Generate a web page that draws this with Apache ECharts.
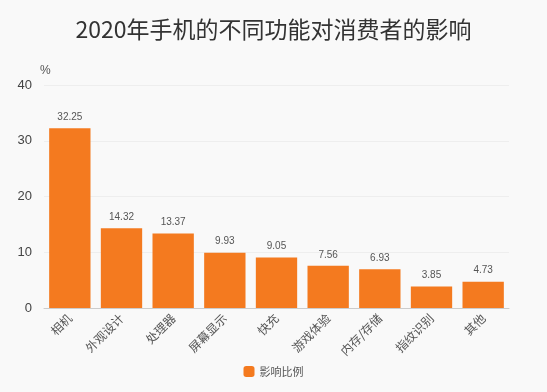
<!DOCTYPE html>
<html><head><meta charset="utf-8">
<script src="https://cdn.jsdelivr.net/npm/echarts@6/dist/echarts.min.js"></script>
<style>html,body{margin:0;padding:0;background:#f9f9f9;}#c{width:547px;height:392px;}</style>
</head><body><div id="c"></div>
<script>
const categories = ['相机','外观设计','处理器','屏幕显示','快充','游戏体验','内存/存储','指纹识别','其他'];
const values = [32.25, 14.32, 13.37, 9.93, 9.05, 7.56, 6.93, 3.85, 4.73];
const seriesName = '影响比例';
const titleText = '2020年手机的不同功能对消费者的影响';
const chart = echarts.init(document.getElementById('c'));
chart.setOption({
  backgroundColor: '#f9f9f9',
  title: {text: titleText, left: 'center', top: 13, textStyle: {fontSize: 23, fontWeight: 'normal', color: '#333', fontFamily: 'Noto Sans CJK SC'}},
  legend: {bottom: 10, left: 'center', itemWidth: 11, itemHeight: 11, icon: 'roundRect', textStyle: {fontSize: 11, color: '#555', fontFamily: 'Noto Sans CJK SC'}},
  grid: {left: 44, right: 38, top: 85, bottom: 84},
  xAxis: {type: 'category', data: categories,
    axisLine: {lineStyle: {color: '#ccc'}}, axisTick: {alignWithLabel: false, lineStyle: {color: '#ccc'}},
    axisLabel: {rotate: 45, interval: 0, fontSize: 12, color: '#555', fontFamily: 'Noto Sans CJK SC'}},
  yAxis: {type: 'value', min: 0, max: 40, interval: 10, name: '%', nameGap: 8,
    nameTextStyle: {color: '#555', fontSize: 12, align: 'left', padding: [0,0,0,-4]},
    axisLine: {show: false}, axisTick: {show: false},
    axisLabel: {fontSize: 13, color: '#444', margin: 12},
    splitLine: {lineStyle: {color: '#eeeeee'}}},
  series: [{name: seriesName, type: 'bar', data: values, barWidth: '80%',
    itemStyle: {color: '#f47a1f'},
    label: {show: true, position: 'top', fontSize: 10, color: '#555', distance: 6}}]
});
</script></body></html>
